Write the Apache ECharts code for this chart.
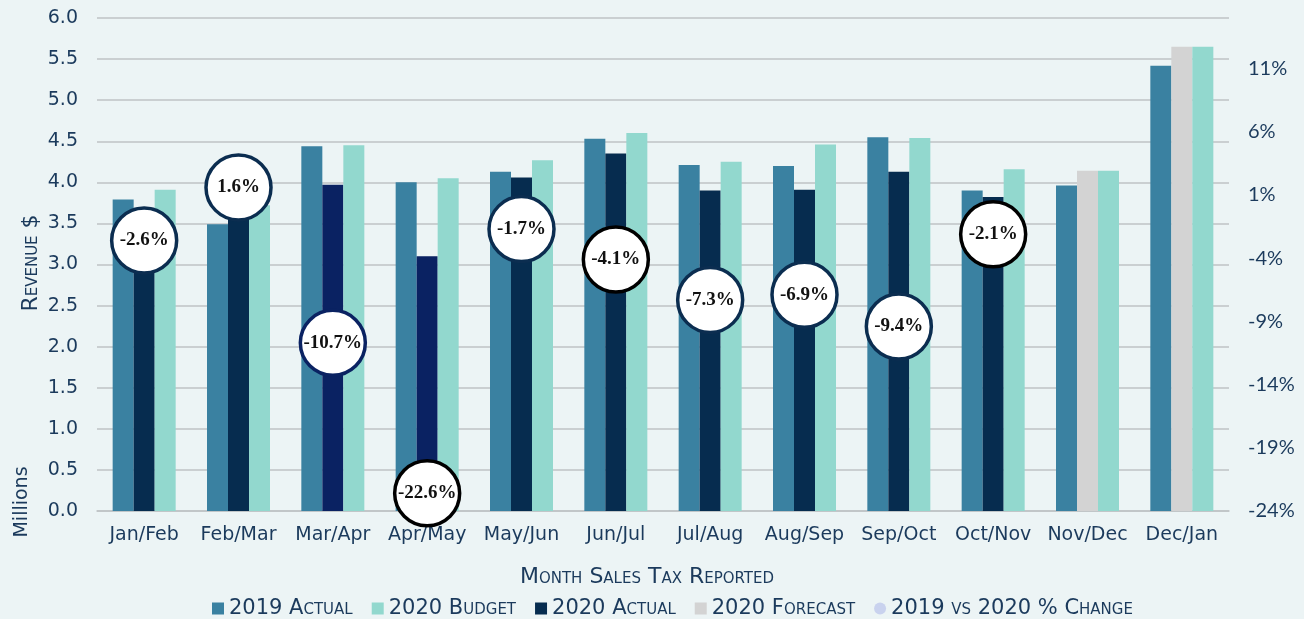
<!DOCTYPE html>
<html><head><meta charset="utf-8">
<script src="https://cdn.jsdelivr.net/npm/echarts@6/dist/echarts.min.js"></script>
<style>html,body{margin:0;padding:0;background:#ECF4F5}#c{width:1304px;height:619px}</style>
</head><body><div id="c"></div>
<script>
const categories = ['Jan/Feb','Feb/Mar','Mar/Apr','Apr/May','May/Jun','Jun/Jul','Jul/Aug','Aug/Sep','Sep/Oct','Oct/Nov','Nov/Dec','Dec/Jan'];
const actual2019 = [3.79,3.49,4.44,4.00,4.13,4.53,4.21,4.20,4.55,3.90,3.96,5.42];
const actual2020 = [3.69,3.55,3.97,3.10,4.06,4.35,3.90,3.91,4.13,3.82,null,null];
const budget2020 = [3.91,3.72,4.45,4.05,4.27,4.60,4.25,4.46,4.54,4.16,4.14,5.65];
const forecast2020 = [null,null,null,null,null,null,null,null,null,null,4.14,5.65];
const pctChange = [-2.6,1.6,-10.7,-22.6,-1.7,-4.1,-7.3,-6.9,-9.4,-2.1,null,null];
const leftTicks = {min:0,max:6,interval:0.5};
const rightTicks = {min:-24,max:15,interval:5};

const NAVY='#0B2D50', BLUENAVY='#0A2262', BLACK='#000000';
const actualColors = ['#062C4F','#062C4F',BLUENAVY,BLUENAVY,'#062C4F','#062C4F','#062C4F','#062C4F','#062C4F','#062C4F','#062C4F','#062C4F'];
const ringColors = [NAVY,NAVY,BLUENAVY,BLACK,NAVY,BLACK,NAVY,NAVY,NAVY,BLACK,NAVY,NAVY];
const TXT='#1B3A5C';

const chart = echarts.init(document.getElementById('c'));
chart.setOption({
  backgroundColor:'#ECF4F5',
  animation:false,
  grid:{left:97,right:75,top:18,bottom:108},
  legend:{
    top:593,left:207,itemWidth:12,itemHeight:12,itemGap:19,
    textStyle:{color:TXT,fontFamily:'DejaVu Sans',fontSize:21,fontStyle:'small-caps'},
    data:[
      {name:'2019 Actual',icon:'rect'},
      {name:'2020 Budget',icon:'rect'},
      {name:'2020 Actual',icon:'rect'},
      {name:'2020 Forecast',icon:'rect'},
      {name:'2019 vs 2020 % Change',icon:'circle',itemStyle:{color:'#C9D2EE',borderWidth:0}}
    ]
  },
  xAxis:{type:'category',data:categories,
    axisLine:{lineStyle:{color:'#BFC3C5',width:1.5}},axisTick:{show:false},
    axisLabel:{color:TXT,fontFamily:'DejaVu Sans',fontSize:19,margin:15,interval:0}},
  yAxis:[
    {type:'value',min:leftTicks.min,max:leftTicks.max,interval:leftTicks.interval,
      axisLabel:{color:TXT,fontFamily:'DejaVu Sans',fontSize:19,margin:19,formatter:v=>v.toFixed(1)},
      splitLine:{lineStyle:{color:'#BFC3C5',width:1.5}},axisLine:{show:false},axisTick:{show:false}},
    {type:'value',min:rightTicks.min,max:rightTicks.max,interval:rightTicks.interval,
      axisLabel:{color:TXT,fontFamily:'Lato',fontSize:20,margin:19,showMaxLabel:false,
        formatter:v=>(v===rightTicks.max?'':v+'%')},
      splitLine:{show:false},axisLine:{show:false},axisTick:{show:false}}
  ],
  graphic:[
    {type:'text',x:31,y:263,rotation:Math.PI/2,style:{text:'Revenue $',fill:TXT,font:'small-caps normal 22px "DejaVu Sans"',align:'center',verticalAlign:'middle'}},
    {type:'text',x:22,y:502,rotation:Math.PI/2,style:{text:'Millions',fill:TXT,font:'normal 19px "DejaVu Sans"',align:'center',verticalAlign:'middle'}},
    {type:'text',x:647,y:577,style:{text:'Month Sales Tax Reported',fill:TXT,font:'small-caps normal 22px "DejaVu Sans"',align:'center',verticalAlign:'middle'}}
  ],
  series:[
    {name:'2019 Actual',type:'bar',data:actual2019,barWidth:21,barGap:'0%',itemStyle:{color:'#3A81A1'}},
    {name:'2020 Actual',type:'bar',stack:'mid',data:actual2020.map((v,i)=>({value:v,itemStyle:{color:actualColors[i]}})),barWidth:21,barGap:'0%',itemStyle:{color:'#062C4F'}},
    {name:'2020 Forecast',type:'bar',stack:'mid',data:forecast2020,barWidth:21,barGap:'0%',itemStyle:{color:'#D3D3D3'}},
    {name:'2020 Budget',type:'bar',data:budget2020,barWidth:21,barGap:'0%',itemStyle:{color:'#92D8CE'}},
    {name:'2019 vs 2020 % Change',type:'scatter',yAxisIndex:1,symbol:'circle',symbolSize:65,z:10,
      data:pctChange.map((v,i)=>v===null?null:({value:v,itemStyle:{borderColor:ringColors[i]}})),
      itemStyle:{color:'#FFFFFF',borderColor:NAVY,borderWidth:3.5,opacity:1},
      label:{show:true,position:'inside',formatter:p=>p.value.toFixed(1)+'%',color:'#111',
        fontFamily:'Liberation Serif',fontWeight:'bold',fontSize:19}}
  ]
});
</script></body></html>
